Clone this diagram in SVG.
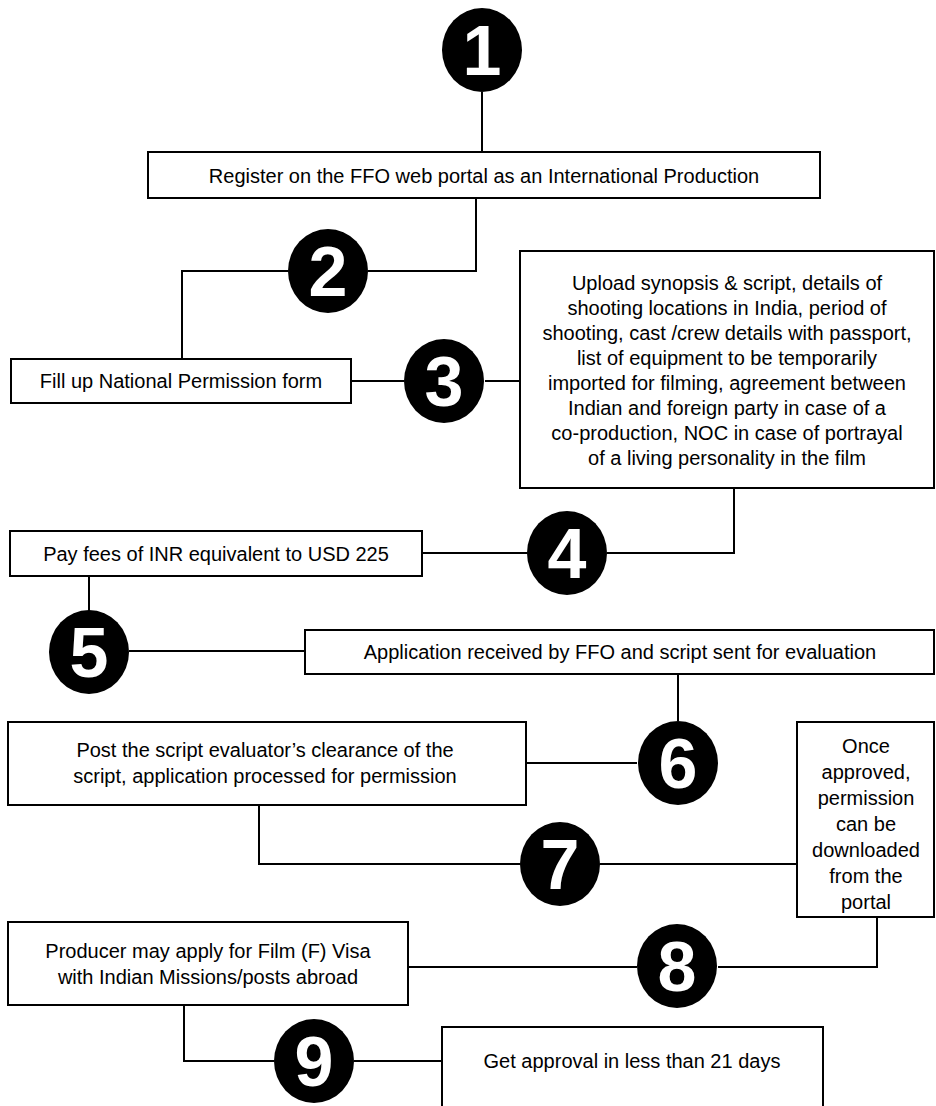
<svg xmlns="http://www.w3.org/2000/svg" width="936" height="1106" viewBox="0 0 936 1106">
<style>
.box{fill:#fff;stroke:#000;stroke-width:2}
.t{font-family:"Liberation Sans",Arial,sans-serif;font-size:20px;fill:#000;text-anchor:middle}
.c{fill:#000}
.n{font-family:"Liberation Sans",Arial,sans-serif;font-weight:bold;font-size:70px;fill:#fff;text-anchor:middle}
.ln{fill:none;stroke:#000;stroke-width:2}
</style>
<rect width="936" height="1106" fill="#fff"/>
<g id="connectors">
<path class="ln" d="M482 92V152"/>
<path class="ln" d="M476 198V271H368"/>
<path class="ln" d="M288 271H182V359"/>
<path class="ln" d="M351 381H404"/>
<path class="ln" d="M485 381H520"/>
<path class="ln" d="M734 488V553H607"/>
<path class="ln" d="M527 553H422"/>
<path class="ln" d="M89 576V612"/>
<path class="ln" d="M129 651H305"/>
<path class="ln" d="M678 674V721"/>
<path class="ln" d="M637 763H526"/>
<path class="ln" d="M259 805V864H520"/>
<path class="ln" d="M600 864H797"/>
<path class="ln" d="M877 917V967H718"/>
<path class="ln" d="M637 967H408"/>
<path class="ln" d="M184 1005V1061H274"/>
<path class="ln" d="M354 1061H442"/>
</g>
<g id="step1"><ellipse class="c" cx="482" cy="50" rx="40" ry="42"/><text class="n" x="482" y="75">1</text></g>
<g id="box1"><rect class="box" x="148" y="152" width="672" height="46"/><text class="t" x="484" y="183">Register on the FFO web portal as an International Production</text></g>
<g id="step2"><ellipse class="c" cx="328" cy="271" rx="40" ry="42"/><text class="n" x="328" y="296">2</text></g>
<g id="box2"><rect class="box" x="11" y="359" width="340" height="44"/><text class="t" x="181" y="388">Fill up National Permission form</text></g>
<g id="step3"><ellipse class="c" cx="444" cy="381" rx="40" ry="42"/><text class="n" x="444" y="406">3</text></g>
<g id="box3"><rect class="box" x="520" y="251" width="414" height="237"/>
<text class="t" x="727" y="290">Upload synopsis &amp; script, details of</text>
<text class="t" x="727" y="315">shooting locations in India, period of</text>
<text class="t" x="727" y="340">shooting, cast /crew details with passport,</text>
<text class="t" x="727" y="365">list of equipment to be temporarily</text>
<text class="t" x="727" y="390">imported for filming, agreement between</text>
<text class="t" x="727" y="415">Indian and foreign party in case of a</text>
<text class="t" x="727" y="440">co-production, NOC in case of portrayal</text>
<text class="t" x="727" y="465">of a living personality in the film</text>
</g>
<g id="step4"><ellipse class="c" cx="567" cy="553" rx="40" ry="42"/><text class="n" x="567" y="578">4</text></g>
<g id="box4"><rect class="box" x="10" y="531" width="412" height="45"/><text class="t" x="216" y="561">Pay fees of INR equivalent to USD 225</text></g>
<g id="step5"><ellipse class="c" cx="89" cy="652" rx="40" ry="42"/><text class="n" x="89" y="677">5</text></g>
<g id="box5"><rect class="box" x="305" y="630" width="629" height="44"/><text class="t" x="620" y="659">Application received by FFO and script sent for evaluation</text></g>
<g id="step6"><ellipse class="c" cx="678" cy="763" rx="40" ry="42"/><text class="n" x="678" y="788">6</text></g>
<g id="box6"><rect class="box" x="8" y="722" width="518" height="83"/>
<text class="t" x="265" y="757">Post the script evaluator’s clearance of the</text>
<text class="t" x="265" y="783">script, application processed for permission</text></g>
<g id="step7"><ellipse class="c" cx="560" cy="864" rx="40" ry="42"/><text class="n" x="560" y="889">7</text></g>
<g id="box7"><rect class="box" x="797" y="722" width="137" height="195"/>
<text class="t" x="866" y="753">Once</text>
<text class="t" x="866" y="779">approved,</text>
<text class="t" x="866" y="805">permission</text>
<text class="t" x="866" y="831">can be</text>
<text class="t" x="866" y="857">downloaded</text>
<text class="t" x="866" y="883">from the</text>
<text class="t" x="866" y="909">portal</text></g>
<g id="step8"><ellipse class="c" cx="677" cy="966" rx="40" ry="42"/><text class="n" x="677" y="991">8</text></g>
<g id="box8"><rect class="box" x="8" y="922" width="400" height="83"/>
<text class="t" x="208" y="958">Producer may apply for Film (F) Visa</text>
<text class="t" x="208" y="984">with Indian Missions/posts abroad</text></g>
<g id="step9"><ellipse class="c" cx="314" cy="1061" rx="40" ry="42"/><text class="n" x="314" y="1086">9</text></g>
<g id="box9"><rect class="box" x="442" y="1027" width="381" height="100"/><text class="t" x="632" y="1068">Get approval in less than 21 days</text></g>
</svg>
